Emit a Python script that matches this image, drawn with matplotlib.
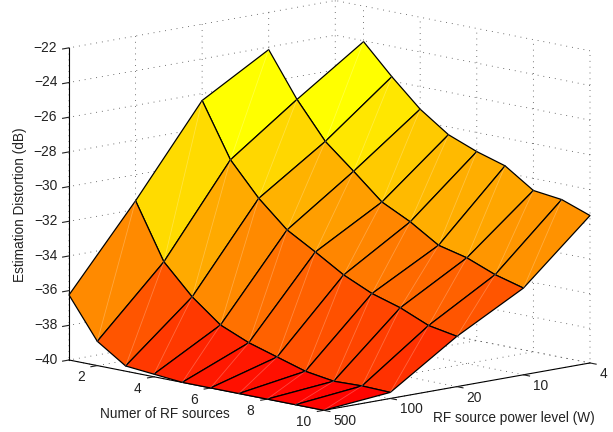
import numpy as np
import matplotlib
matplotlib.use("Agg")
import matplotlib.pyplot as plt
from matplotlib.transforms import offset_copy
from mpl_toolkits.mplot3d import proj3d
from mpl_toolkits.mplot3d.art3d import Poly3DCollection

plt.rcParams['font.family'] = ['Liberation Sans', 'DejaVu Sans']
plt.rcParams['grid.color'] = '#444444'
plt.rcParams['grid.linestyle'] = (0, (1, 6))
plt.rcParams['grid.linewidth'] = 0.6

sources = [1, 2, 3, 4, 5, 6, 7, 8, 9, 10]
power_labels = ['500', '100', '20', '10', '4']
p500 = [-36.25, -38.6, -39.7, -39.85, -40.0, -40.0, -40.0, -40.0, -40.0, -40.0]
p100 = [-31.5, -34.7, -36.4, -37.7, -38.4, -38.9, -39.4, -39.65, -39.6, -39.65]
p20 = [-26.4, -29.5, -31.4, -32.9, -33.85, -34.85, -35.6, -36.1, -36.8, -37.1]
p10 = [-24.15, -26.7, -28.8, -30.2, -31.65, -32.47, -33.5, -33.9, -34.55, -35.0]
p4 = [np.nan, -24.05, -25.75, -27.3, -28.45, -29.1, -29.6, -30.7, -30.9, -31.5]
x_ticks = [2, 4, 6, 8, 10]
z_ticks = [-40, -38, -36, -34, -32, -30, -28, -26, -24, -22]

Z = np.array([p500, p100, p20, p10, p4]).T
X, Y = np.meshgrid(sources, np.arange(len(power_labels)), indexing='ij')

fig = plt.figure(figsize=(6.13, 4.32), dpi=100)
ax = fig.add_axes([0.02, 0.0, 0.96, 1.0], projection='3d', proj_type='ortho')
ax.computed_zorder = False
ax.set_box_aspect((368, 365, 316))
ax.view_init(elev=10.8, azim=-43.5)
ax.set_xlim(1, 10, view_margin=0)
ax.set_ylim(0, 4, view_margin=0)
ax.set_zlim(-40, -22, view_margin=0)

cmap = plt.get_cmap('autumn', 64)
norm = plt.Normalize(-40, -24.05)

# one face per grid cell; each takes its colour from the corner at the
# lower source count and higher power index
verts, colors, seam_x, seam_y, seam_z = [], [], [], [], []
for i in range(Z.shape[0] - 1):
    for j in range(Z.shape[1] - 1):
        idx = [(i, j), (i + 1, j), (i + 1, j + 1), (i, j + 1)]
        if any(np.isnan(Z[k]) for k in idx):
            continue
        verts.append([(X[k], Y[k], Z[k]) for k in idx])
        colors.append(cmap(norm(Z[i, j + 1])))
        seam_x += [X[i, j + 1], X[i + 1, j], np.nan]
        seam_y += [Y[i, j + 1], Y[i + 1, j], np.nan]
        seam_z += [Z[i, j + 1], Z[i + 1, j], np.nan]
surf = Poly3DCollection(verts, facecolors=colors, edgecolors='black', linewidths=0.9, zorder=2)
ax.add_collection3d(surf)
ax.plot(seam_x, seam_y, seam_z, color='white', alpha=0.25, lw=0.6, zorder=3)

for a in (ax.xaxis, ax.yaxis, ax.zaxis):
    a.set_pane_color((1, 1, 1, 0))
    a.pane.set_edgecolor((1, 1, 1, 0))
    a.line.set_color('black')
    a.line.set_linewidth(0.8)
for a in (ax.xaxis, ax.yaxis):
    a._axinfo['tick'].update(inward_factor=0.3, outward_factor=0.0, linewidth={True: 0.8, False: 0.5})
ax.zaxis._axinfo['tick'].update(inward_factor=0.3, outward_factor=0.0, linewidth={True: 0.8, False: 0.5})

ax.set_xticks(x_ticks)
ax.set_yticks(range(len(power_labels)))
ax.set_yticklabels(power_labels)
ax.set_zticks(z_ticks)
ax.set_zticklabels([f'\u2212{abs(v)}' for v in z_ticks])
ax.zaxis.set_ticks_position('lower')
ax.tick_params(labelsize=9.9, colors='#222222')
ax.tick_params(axis='x', pad=-5)
ax.tick_params(axis='y', pad=-5)
ax.tick_params(axis='z', pad=2)


def shift_tick_labels(axis, dx_px, dy_px):
    # Axis3D resets the label transform in get_major_ticks, so reapply the nudge there
    shifted = offset_copy(ax.transData, fig=fig, x=dx_px, y=dy_px, units='dots')
    original = axis.get_major_ticks

    def get_major_ticks(numticks=None):
        ticks = original(numticks)
        for t in ticks:
            t.label1.set_transform(shifted)
        return ticks

    axis.get_major_ticks = get_major_ticks


for t in ax.xaxis.get_major_ticks():
    t.label1.set_ha('right')
for t in ax.yaxis.get_major_ticks():
    t.label1.set_ha('left')
for t in ax.zaxis.get_major_ticks():
    t.label1.set_va('center')
shift_tick_labels(ax.xaxis, -9, 0)
shift_tick_labels(ax.yaxis, 6, 1)

fig.canvas.draw()


def pixel(x, y, z):
    px, py, _ = proj3d.proj_transform(x, y, z, ax.get_proj())
    return ax.transData.transform((px, py))


p0 = pixel(1, 0, -40)
p1 = pixel(10, 4, -40)
s = (590 - 69) / (p1[0] - p0[0])
bb = ax.get_position(original=False)
w = bb.width * s
h = bb.height * s
cx = (bb.x0 + bb.x1) / 2
cy = (bb.y0 + bb.y1) / 2
fig_w, fig_h = fig.canvas.get_width_height()
ax.set_position([cx - w / 2, cy - h / 2, w, h])
fig.canvas.draw()
p0 = pixel(1, 0, -40)
dx = (69 - p0[0]) / fig_w
dy = ((432 - 360) - p0[1]) / fig_h
bb = ax.get_position(original=False)
ax.set_position([bb.x0 + dx, bb.y0 + dy, bb.width, bb.height])

fig.text(165 / 613, 1 - 414 / 432, 'Numer of RF sources', ha='center', va='center', fontsize=9.85, color='#222222')
fig.text(514 / 613, 1 - 418 / 432, 'RF source power level (W)', ha='center', va='center', fontsize=9.85, color='#222222')
fig.text(20 / 613, 1 - 205 / 432, 'Estimation Distortion (dB)', ha='center', va='center', rotation=90, fontsize=9.85, color='#222222')

fig.savefig('out.png', dpi=100)
